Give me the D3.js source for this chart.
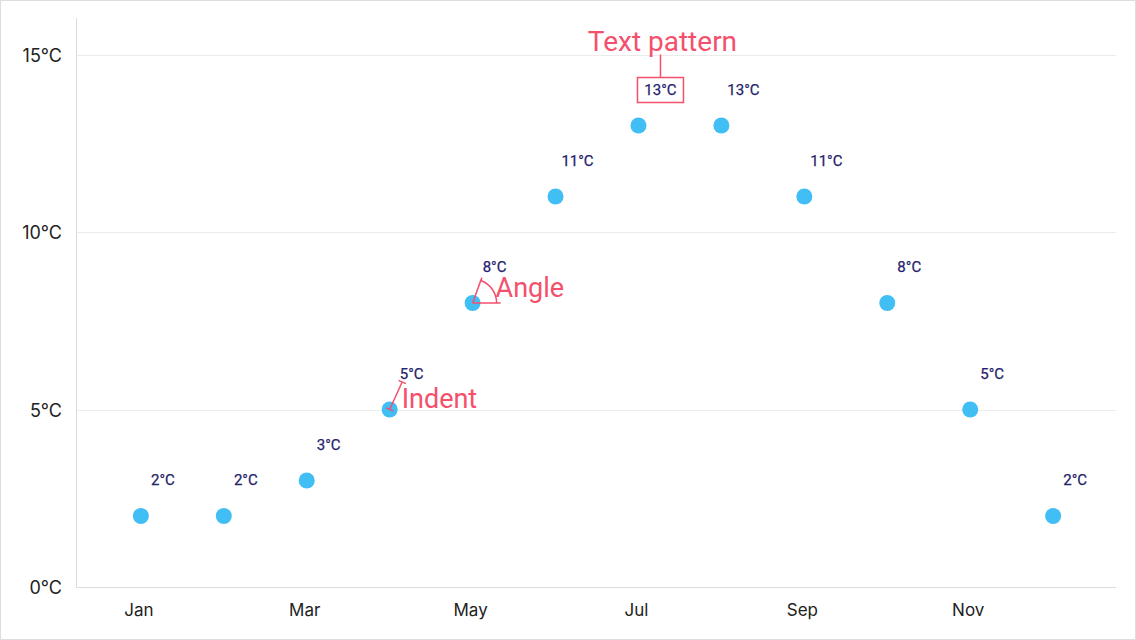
<!DOCTYPE html>
<html><head><meta charset="utf-8">
<script src="https://cdn.jsdelivr.net/npm/d3@7"></script>
<style>html,body{margin:0;padding:0;background:#fff}svg{display:block}</style>
</head><body>
<svg id="c" width="1136" height="640"></svg>
<script>
const months = ["Jan","Feb","Mar","Apr","May","Jun","Jul","Aug","Sep","Oct","Nov","Dec"];
const temps = [2,2,3,5,8,11,13,13,11,8,5,2];
const yTicks = [0,5,10,15];
const xTickLabels = ["Jan","Mar","May","Jul","Sep","Nov"];

const W = 1136, H = 640;
const m = {l:76, r:1116, t:19, b:587};
const svg = d3.select("#c");
const pink = "#f4506c", navy = "#24226a", blue = "#41bef3";

svg.append("rect").attr("x",0.5).attr("y",0.5).attr("width",W-1).attr("height",H-1)
  .attr("fill","none").attr("stroke","#dedede");

const x = d3.scalePoint().domain(months).range([m.l+1, m.r+1]).padding(0.77);
const y = d3.scaleLinear().domain([0,16]).range([m.b, m.t]);

// gridlines
svg.append("g").selectAll("line").data(yTicks.filter(d=>d>0)).join("line")
  .attr("x1",m.l).attr("x2",m.r).attr("y1",d=>Math.round(y(d))+0.5).attr("y2",d=>Math.round(y(d))+0.5)
  .attr("stroke","#ebebeb");

// y axis
const ya = svg.append("g").attr("transform",`translate(${m.l},0)`)
  .call(d3.axisLeft(y).tickValues(yTicks).tickFormat(d=>d+"°C").tickSize(0).tickPadding(14));
ya.select(".domain").remove();
ya.selectAll("text").attr("font-family","Inter, sans-serif").attr("font-size",18).attr("fill","#222").attr("dy","0.38em");
svg.append("line").attr("x1",m.l+0.5).attr("x2",m.l+0.5).attr("y1",18).attr("y2",m.b).attr("stroke","#dcdcdc");

// x axis
const xa = svg.append("g").attr("transform",`translate(0,${m.b})`)
  .call(d3.axisBottom(x).tickValues(xTickLabels).tickSize(0).tickPadding(17));
xa.select(".domain").remove();
xa.selectAll("text").attr("font-family","Inter, sans-serif").attr("font-size",17).attr("fill","#222").attr("dx","-2.5");
svg.append("line").attr("x1",m.l).attr("x2",m.r).attr("y1",m.b+0.5).attr("y2",m.b+0.5).attr("stroke","#dcdcdc");

// points
const data = months.map((mo,i)=>({mo, v:temps[i]}));
svg.append("g").selectAll("circle").data(data).join("circle")
  .attr("cx",d=>x(d.mo)).attr("cy",d=>y(d.v)).attr("r",8).attr("fill",blue);

// labels
svg.append("g").selectAll("text").data(data).join("text")
  .attr("x",d=>x(d.mo)+22).attr("y",d=>y(d.v)-36).attr("dy","0.35em")
  .attr("text-anchor","middle").attr("font-family","Roboto, sans-serif").attr("font-weight",400)
  .attr("font-size",15).attr("fill",navy).attr("stroke",navy).attr("stroke-width",0.25).text(d=>d.v+"°C");

// annotations
const ann = svg.append("g").attr("stroke",pink).attr("fill","none").attr("stroke-width",1.5);
// Text pattern (July)
const jul = data[6];
const jx = x(jul.mo)+22, jy = y(jul.v)-36;
ann.append("rect").attr("x",jx-23).attr("y",jy-12).attr("width",46).attr("height",25);
ann.append("line").attr("x1",jx).attr("x2",jx).attr("y1",jy-12).attr("y2",jy-35);
svg.append("text").attr("x",jx+2).attr("y",jy-39).attr("text-anchor","middle")
  .attr("font-family","Roboto, sans-serif").attr("font-size",28).attr("fill",pink).text("Text pattern");

// Angle (May)
const may = data[4];
const ax = x(may.mo), ay = y(may.v);
const ang = 70*Math.PI/180, ar = 24;
ann.append("line").attr("x1",ax).attr("y1",ay).attr("x2",ax+28).attr("y2",ay);
ann.append("line").attr("x1",ax).attr("y1",ay).attr("x2",ax+27*Math.cos(ang)).attr("y2",ay-27*Math.sin(ang));
ann.append("path").attr("d",`M${ax+ar},${ay} A${ar},${ar} 0 0 0 ${ax+ar*Math.cos(ang)},${ay-ar*Math.sin(ang)}`);
svg.append("text").attr("x",ax+23).attr("y",ay-6)
  .attr("font-family","Roboto, sans-serif").attr("font-size",27).attr("fill",pink).text("Angle");

// Indent (Apr)
const apr = data[3];
const ix = x(apr.mo), iy = y(apr.v);
const ex = ix+12.5, ey = iy-27.5;
ann.append("line").attr("x1",ix).attr("y1",iy).attr("x2",ex).attr("y2",ey);
const len = Math.hypot(ex-ix, ey-iy), px = -(ey-iy)/len*4, py = (ex-ix)/len*4;
ann.append("line").attr("x1",ix-px).attr("y1",iy-py).attr("x2",ix+px).attr("y2",iy+py);
ann.append("line").attr("x1",ex-px).attr("y1",ey-py).attr("x2",ex+px).attr("y2",ey+py);
svg.append("text").attr("x",ix+12).attr("y",iy-2)
  .attr("font-family","Roboto, sans-serif").attr("font-size",27).attr("fill",pink).text("Indent");
</script>
</body></html>
